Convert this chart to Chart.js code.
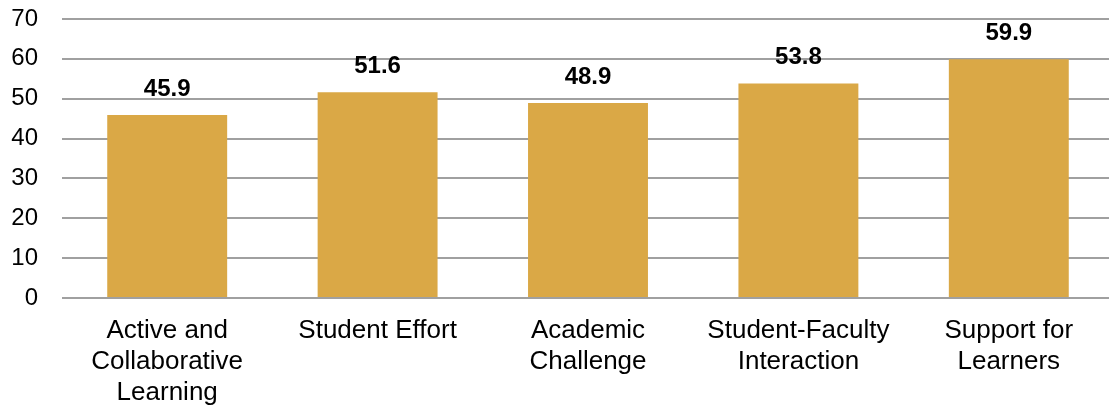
<!DOCTYPE html>
<html>
<head>
<meta charset="utf-8">
<script src="https://cdn.jsdelivr.net/npm/chart.js@4.4.0/dist/chart.umd.min.js"></script>
<style>
  html, body { margin: 0; padding: 0; background: #fff; overflow: hidden; }
  #wrap { width: 1114px; height: 407px; }
</style>
</head>
<body>
<div id="wrap"><canvas id="benchChart"></canvas></div>
<script>
// categorias y valores
const categories = [
    ['Active and', 'Collaborative', 'Learning'],
    ['Student Effort'],
    ['Academic', 'Challenge'],
    ['Student-Faculty', 'Interaction'],
    ['Support for', 'Learners']
];
const scores = [45.9, 51.6, 48.9, 53.8, 59.9];
const yTicks = [0, 10, 20, 30, 40, 50, 60, 70];

const fontFamily = '"Liberation Sans", Arial, sans-serif';

// etiquetas sobre las barras
const valueLabels = {
    id: 'valueLabels',
    afterDatasetsDraw(chart) {
        const ctx = chart.ctx;
        const meta = chart.getDatasetMeta(0);
        ctx.save();
        ctx.font = 'bold 24px ' + fontFamily;
        ctx.fillStyle = '#000';
        ctx.textAlign = 'center';
        ctx.textBaseline = 'middle';
        meta.data.forEach((bar, i) => {
            ctx.fillText(scores[i].toFixed(1), bar.x, bar.y - 26);
        });
        ctx.restore();
    }
};

const ctx = document.getElementById('benchChart').getContext('2d');
new Chart(ctx, {
    type: 'bar',
    data: {
        labels: categories,
        datasets: [{
            data: scores,
            backgroundColor: '#DAA846',
            barPercentage: 0.57,
            categoryPercentage: 1
        }]
    },
    options: {
        responsive: true,
        maintainAspectRatio: false,
        animation: false,
        layout: { padding: { top: 19, left: 0, right: 0, bottom: 0 } },
        plugins: {
            legend: { display: false },
            tooltip: { enabled: false }
        },
        scales: {
            x: {
                grid: { display: false },
                border: { display: false },
                ticks: {
                    color: '#000',
                    font: { family: fontFamily, size: 26, lineHeight: 1.19 },
                    padding: 9,
                    maxRotation: 0,
                    autoSkip: false
                },
                afterFit(scale) {
                    scale.height = 109;
                    scale.paddingLeft = 0;
                    scale.paddingRight = 0;
                }
            },
            y: {
                min: 0,
                max: 70,
                afterBuildTicks(scale) {
                    scale.ticks = yTicks.map(v => ({ value: v }));
                },
                grid: { color: '#A0A0A0', lineWidth: 2, drawTicks: false },
                border: { display: false },
                ticks: {
                    color: '#000',
                    font: { family: fontFamily, size: 24 },
                    padding: 24
                },
                afterFit(scale) {
                    scale.width = 62;
                    scale.paddingTop = 0;
                    scale.paddingBottom = 0;
                }
            }
        }
    },
    plugins: [valueLabels]
});
</script>
</body>
</html>
